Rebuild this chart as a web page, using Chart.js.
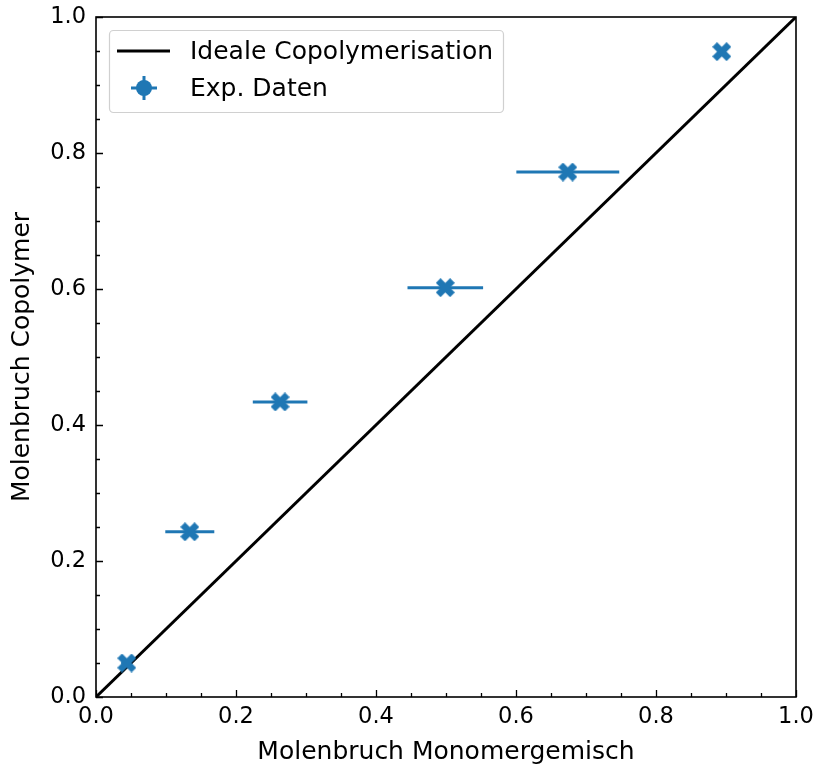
<!DOCTYPE html>
<html>
<head>
<meta charset="utf-8">
<script src="https://cdn.jsdelivr.net/npm/chart.js@4/dist/chart.umd.min.js"></script>
<style>
  html, body { margin: 0; padding: 0; background: #fff; }
  #wrap { width: 817px; height: 767px; }
</style>
</head>
<body>
<div id="wrap"><canvas id="myChart" width="817" height="767"></canvas></div>
<script>
// Messdaten
const monomerFraction = [0.044, 0.134, 0.263, 0.499, 0.674, 0.894];
const copolymerFraction = [0.050, 0.243, 0.434, 0.602, 0.772, 0.949];
const monomerErr = [0.008, 0.035, 0.039, 0.054, 0.0735, 0.006];
const idealLine = [0, 1];
const tickValues = [0.0, 0.2, 0.4, 0.6, 0.8, 1.0];

const BLUE = '#1f77b4';
const FONT = 'DejaVu Sans';

// filled "X" marker like matplotlib
function makeX(size) {
  const c = document.createElement('canvas');
  c.width = size; c.height = size;
  const g = c.getContext('2d');
  const s = size / 2, w = size * 0.25;
  g.translate(s, s);
  g.fillStyle = BLUE;
  g.beginPath();
  const pts = [[-s, -s + w], [-s + w, -s], [0, -w], [s - w, -s], [s, -s + w], [w, 0],
               [s, s - w], [s - w, s], [0, w], [-s + w, s], [-s, s - w], [-w, 0]];
  pts.forEach((p, i) => i ? g.lineTo(p[0], p[1]) : g.moveTo(p[0], p[1]));
  g.closePath();
  g.fill();
  return c;
}
const xMarker = makeX(19);

const errorBars = {
  id: 'errorBars',
  beforeDatasetsDraw(chart) {
    const { ctx, scales: { x, y } } = chart;
    ctx.save();
    ctx.strokeStyle = BLUE;
    ctx.lineWidth = 3;
    monomerFraction.forEach((v, i) => {
      const py = y.getPixelForValue(copolymerFraction[i]);
      ctx.beginPath();
      ctx.moveTo(x.getPixelForValue(v - monomerErr[i]), py);
      ctx.lineTo(x.getPixelForValue(v + monomerErr[i]), py);
      ctx.stroke();
    });
    ctx.restore();
  }
};

const frameAndTicks = {
  id: 'frameAndTicks',
  afterDatasetsDraw(chart) {
    const { ctx, chartArea: a, scales: { x, y } } = chart;
    ctx.save();
    ctx.strokeStyle = '#000';
    ctx.lineWidth = 1.3;
    for (let v = 0; v <= 1.0001; v += 0.05) {
      const major = Math.abs(v * 5 - Math.round(v * 5)) < 1e-6;
      const len = major ? 7 : 4;
      const px = Math.round(x.getPixelForValue(v)) + 0.5;
      const py = Math.round(y.getPixelForValue(v)) + 0.5;
      ctx.beginPath();
      ctx.moveTo(px, a.bottom); ctx.lineTo(px, a.bottom - len);
      ctx.moveTo(a.left, py); ctx.lineTo(a.left + len, py);
      ctx.stroke();
    }
    ctx.lineWidth = 1.6;
    ctx.strokeRect(a.left, a.top, a.right - a.left, a.bottom - a.top);
    ctx.restore();
  }
};

const legendBox = {
  id: 'legendBox',
  afterDraw(chart) {
    const { ctx, chartArea: a } = chart;
    const bx = a.left + 13, by = a.top + 13, bw = 394, bh = 82;
    ctx.save();
    ctx.fillStyle = 'rgba(255,255,255,0.85)';
    ctx.strokeStyle = '#d0d0d0';
    ctx.lineWidth = 1.2;
    ctx.beginPath();
    ctx.roundRect(bx + 0.5, by + 0.5, bw, bh, 4);
    ctx.fill();
    ctx.stroke();
    // line entry
    ctx.strokeStyle = '#000';
    ctx.lineWidth = 3;
    ctx.beginPath();
    ctx.moveTo(bx + 8, by + 21); ctx.lineTo(bx + 61, by + 21);
    ctx.stroke();
    // errorbar entry
    const cx = bx + 35, cy = by + 58;
    ctx.strokeStyle = BLUE;
    ctx.lineWidth = 3;
    ctx.beginPath();
    ctx.moveTo(cx - 13, cy); ctx.lineTo(cx + 13, cy);
    ctx.moveTo(cx, cy - 12); ctx.lineTo(cx, cy + 12);
    ctx.stroke();
    ctx.fillStyle = BLUE;
    ctx.beginPath();
    ctx.arc(cx, cy, 8, 0, Math.PI * 2);
    ctx.fill();
    ctx.fillStyle = '#000';
    ctx.font = '25px ' + FONT;
    ctx.textBaseline = 'middle';
    ctx.fillText('Ideale Copolymerisation', bx + 81, by + 22);
    ctx.fillText('Exp. Daten', bx + 81, by + 59);
    ctx.restore();
  }
};

const noOverflow = s => { s.paddingTop = 0; s.paddingBottom = 0; s.paddingLeft = 0; s.paddingRight = 0; };

new Chart(document.getElementById('myChart'), {
  type: 'scatter',
  data: {
    datasets: [
      {
        label: 'Ideale Copolymerisation',
        type: 'line',
        data: idealLine.map(v => ({ x: v, y: v })),
        borderColor: '#000',
        borderWidth: 3,
        pointRadius: 0,
        order: 2
      },
      {
        label: 'Exp. Daten',
        data: monomerFraction.map((v, i) => ({ x: v, y: copolymerFraction[i] })),
        pointStyle: xMarker,
        pointRadius: 9,
        backgroundColor: BLUE,
        borderColor: BLUE,
        order: 1
      }
    ]
  },
  options: {
    responsive: false,
    animation: false,
    layout: { padding: { top: 17, right: 21, left: 0, bottom: 0 } },
    plugins: {
      legend: { display: false },
      tooltip: { enabled: false }
    },
    scales: {
      x: {
        type: 'linear', min: 0, max: 1,
        afterFit: s => { s.height = 70; noOverflow(s); },
        afterBuildTicks: s => { s.ticks = tickValues.map(v => ({ value: v })); },
        grid: { display: false, drawTicks: false },
        border: { display: false },
        ticks: { color: '#000', font: { family: FONT, size: 22.5 }, padding: 7,
                 callback: v => v.toFixed(1), maxRotation: 0 },
        title: { display: true, text: 'Molenbruch Monomergemisch', color: '#000',
                 font: { family: FONT, size: 25 }, padding: { top: 0, bottom: 0 } }
      },
      y: {
        type: 'linear', min: 0, max: 1,
        afterFit: s => { s.width = 96; noOverflow(s); },
        afterBuildTicks: s => { s.ticks = tickValues.map(v => ({ value: v })); },
        grid: { display: false, drawTicks: false },
        border: { display: false },
        ticks: { color: '#000', font: { family: FONT, size: 22.5 }, padding: 10,
                 callback: v => v.toFixed(1) },
        title: { display: true, text: 'Molenbruch Copolymer', color: '#000',
                 font: { family: FONT, size: 25 }, padding: { top: 7, bottom: 0 } }
      }
    }
  },
  plugins: [errorBars, frameAndTicks, legendBox]
});
</script>
</body>
</html>
